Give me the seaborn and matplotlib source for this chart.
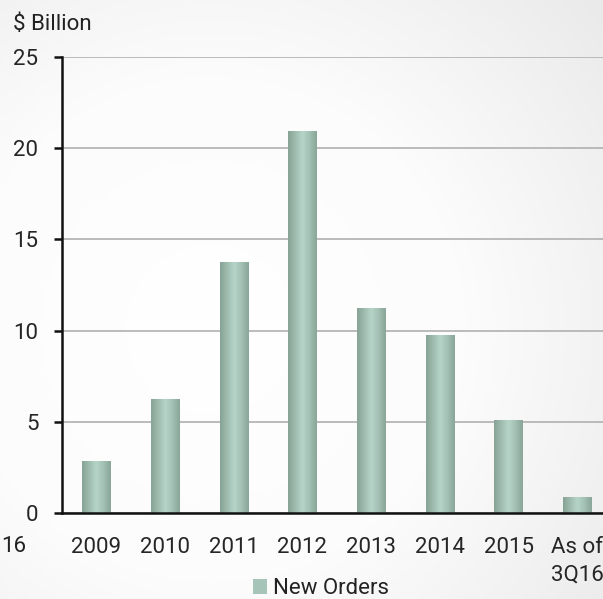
import numpy as np
import seaborn as sns
import matplotlib.pyplot as plt
from matplotlib.colors import LinearSegmentedColormap
from matplotlib.patches import Patch

# data
years = ["2009", "2010", "2011", "2012", "2013", "2014", "2015", "As of\n3Q16"]
new_orders = [2.8, 6.25, 13.75, 20.9, 11.2, 9.75, 5.05, 0.85]
y_ticks = [0, 5, 10, 15, 20, 25]
series_name = "New Orders"

FS = 16

sns.set_style("white")
plt.rcParams["font.family"] = ["Roboto", "DejaVu Sans"]
plt.rcParams["text.color"] = "#222222"

fig = plt.figure(figsize=(6.03, 5.99), dpi=100)

# soft grey background, lighter towards the upper left
bg = fig.add_axes([0, 0, 1, 1], zorder=-5)
yy, xx = np.mgrid[0:1:200j, 0:1:200j]
r = np.sqrt((xx - 0.35) ** 2 + (yy - 0.55) ** 2)
bg.imshow(r, cmap=LinearSegmentedColormap.from_list("bg", ["#ffffff", "#fcfcfc", "#eaeaea"]),
          extent=[0, 1, 0, 1], aspect="auto", vmin=0, vmax=0.85)
bg.axis("off")

ax = fig.add_axes([62 / 603, 86 / 599, 549.6 / 603, 456 / 599])
ax.patch.set_alpha(0)

sns.barplot(x=years, y=new_orders, order=years, ax=ax, width=0.41, color="#a0bfb2")

# cylinder-like shading on each bar
bar_cmap = LinearSegmentedColormap.from_list(
    "bar", ["#86a395", "#9fbcaf", "#b6d5c9", "#a2c0b3", "#89a698"])
grad = np.linspace(0, 1, 64).reshape(1, -1)
for p in ax.patches:
    x0, y0 = p.get_x(), p.get_y()
    w, h = p.get_width(), p.get_height()
    p.set_facecolor("none")
    p.set_edgecolor("none")
    ax.imshow(grad, cmap=bar_cmap, extent=[x0, x0 + w, y0, y0 + h],
              aspect="auto", zorder=2)

ax.set_xlim(-0.5, 7.5)
ax.set_ylim(0, 25)
ax.set_yticks(y_ticks)
ax.yaxis.grid(True, color="#b0b0b0", linewidth=1.2, zorder=0)
ax.set_axisbelow(True)

for s in ["top", "right"]:
    ax.spines[s].set_visible(False)
for s in ["left", "bottom"]:
    ax.spines[s].set_color("#111111")
    ax.spines[s].set_linewidth(1.8)
    ax.spines[s].set_zorder(5)

ax.set_xticks(np.arange(len(years)))
ax.set_xticklabels(years, fontsize=FS)
for lab in ax.get_xticklabels():
    lab.set_linespacing(1.45)
ax.set_xticks(np.arange(len(years) + 1) - 0.5, minor=True)
ax.tick_params(axis="x", which="major", length=0, pad=17)
ax.tick_params(axis="x", which="minor", length=6, width=1.8, color="#111111", direction="out")
ax.tick_params(axis="y", length=6, width=1.8, color="#111111", pad=11, labelsize=FS, left=True)
ax.set_xlabel("")

fig.text(13 / 603, 1 - 25 / 599, "$ Billion", fontsize=FS, va="center", ha="left")
# stray label fragment at the left edge
fig.text(1 / 603, 1 - 547 / 599, "16", fontsize=FS, va="center", ha="left")

handle = Patch(facecolor="#a6c4b7", edgecolor="none")
fig.legend([handle], [series_name], loc="center", bbox_to_anchor=(321 / 603, 10 / 599),
           frameon=False, fontsize=FS, handlelength=0.65, handleheight=0.65,
           handletextpad=0.25, borderpad=0)

fig.savefig("out.png", dpi=100)
